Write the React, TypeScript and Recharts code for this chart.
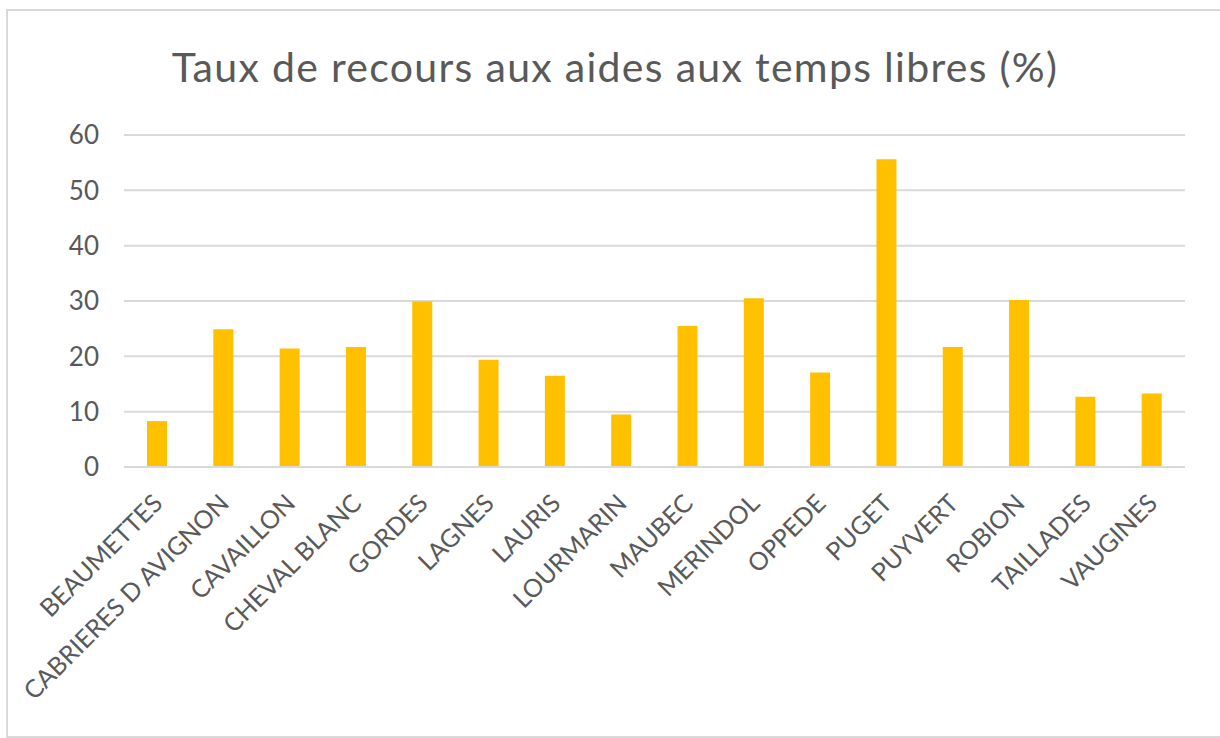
import React from "react"
import { BarChart, Bar, XAxis, YAxis, CartesianGrid } from "recharts"

const communes = [
  "BEAUMETTES",
  "CABRIERES D AVIGNON",
  "CAVAILLON",
  "CHEVAL BLANC",
  "GORDES",
  "LAGNES",
  "LAURIS",
  "LOURMARIN",
  "MAUBEC",
  "MERINDOL",
  "OPPEDE",
  "PUGET",
  "PUYVERT",
  "ROBION",
  "TAILLADES",
  "VAUGINES",
]

const taux = [8.3, 24.9, 21.4, 21.7, 29.9, 19.4, 16.5, 9.5, 25.5, 30.5, 17.1, 55.6, 21.7, 30.2, 12.7, 13.3]

const yTicks = [0, 10, 20, 30, 40, 50, 60]

const data = communes.map((name, i) => ({ name, taux: taux[i] }))

const FONT = "Lato, 'Open Sans', sans-serif"
const TEXT = "#595959"

function CommuneTick(props: any) {
  const { x, y, payload } = props
  return (
    <g transform={`translate(${x + 7},${y + 38})`}>
      <text x={0} y={0} textAnchor="end" transform="rotate(-45)" fill={TEXT} fontSize={25} fontFamily={FONT}>
        {payload.value}
      </text>
    </g>
  )
}

export default function App() {
  return (
    <div style={{ position: "absolute", left: 0, top: 0, width: 1220, height: 738, background: "#fff" }}>
      <div
        style={{
          position: "absolute",
          left: 6,
          top: 9,
          width: 1220,
          height: 729,
          border: "2px solid #d9d9d9",
          boxSizing: "border-box",
        }}
      />
      <div
        style={{
          position: "absolute",
          left: 0,
          top: 42,
          width: 1230,
          textAlign: "center",
          fontFamily: FONT,
          fontSize: 41,
          letterSpacing: 1.3,
          color: TEXT,
          whiteSpace: "nowrap",
        }}
      >
        Taux de recours aux aides aux temps libres (%)
      </div>
      <div style={{ position: "absolute", left: 0, top: 0 }}>
        <BarChart width={1220} height={738} data={data} margin={{ top: 135, right: 35, bottom: 71, left: 4 }}>
          <CartesianGrid vertical={false} stroke="#d9d9d9" strokeWidth={2} />
          <XAxis
            dataKey="name"
            interval={0}
            height={200}
            axisLine={{ stroke: "#d9d9d9", strokeWidth: 2 }}
            tickLine={false}
            tickSize={0}
            tickMargin={0}
            tick={<CommuneTick />}
          />
          <YAxis
            width={120}
            domain={[0, 60]}
            ticks={yTicks}
            axisLine={false}
            tickLine={false}
            tickSize={0}
            tickMargin={25}
            tick={{ fill: TEXT, fontSize: 26, fontFamily: FONT }}
          />
          <Bar dataKey="taux" fill="#ffc000" barSize={20} isAnimationActive={false} />
        </BarChart>
      </div>
    </div>
  )
}
